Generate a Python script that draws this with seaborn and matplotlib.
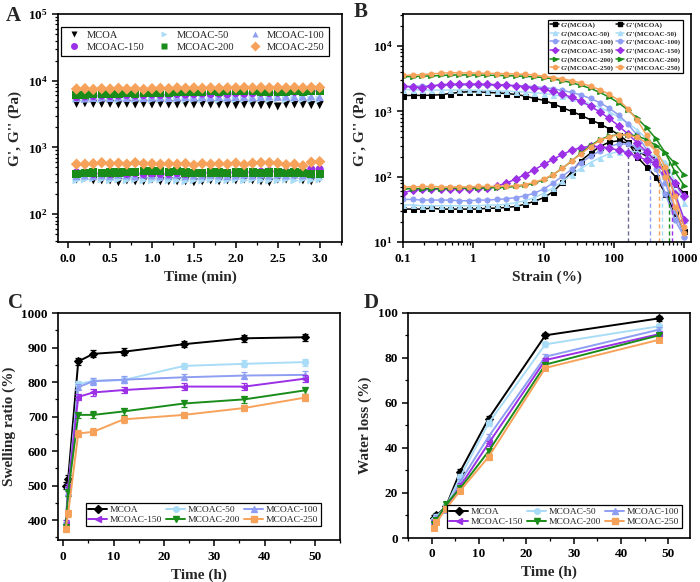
import numpy as np
import pandas as pd
import matplotlib
matplotlib.use("Agg")
import matplotlib.pyplot as plt
import seaborn as sns
from matplotlib.ticker import AutoMinorLocator, LogLocator, FixedLocator, NullFormatter, FixedFormatter

# ---------------- data ----------------
names = ["MCOA", "MCOAC-50", "MCOAC-100", "MCOAC-150", "MCOAC-200", "MCOAC-250"]
colors = ["#000000", "#a9dcf7", "#8e9ef2", "#9b30e6", "#1a8c1a", "#f7a25a"]

# Panel A: time sweep
time_min = [0.1, 0.2, 0.3, 0.4, 0.5, 0.6, 0.7, 0.8, 0.9, 1.0, 1.1, 1.2, 1.3, 1.4, 1.5,
            1.6, 1.7, 1.8, 1.9, 2.0, 2.1, 2.2, 2.3, 2.4, 2.5, 2.6, 2.7, 2.8, 2.9, 3.0]
A_Gp_MCOA = [4500, 4600, 4500, 4500, 4500, 4400, 4500, 4400, 4500, 4400, 4500, 4400, 4400, 4500, 4400,
             4500, 4400, 4400, 4400, 4300, 4400, 4400, 4300, 4300, 4100, 4400, 4400, 4400, 4300, 4300]
A_Gp_50 = [5300, 5200, 5300, 5250, 5300, 5200, 5350, 5250, 5300, 5200, 5300, 5250, 5300, 5200, 5300,
           5250, 5300, 5200, 5300, 5250, 5300, 5200, 5350, 5250, 5300, 5200, 5300, 5250, 5300, 5200]
A_Gp_100 = [5500, 5400, 5500, 5600, 5500, 5600, 5500, 5600, 5500, 5600, 5600, 5500, 5600, 5700, 5600,
            5700, 5600, 5700, 5600, 5700, 5700, 5600, 5700, 5800, 5700, 5800, 5700, 5800, 5800, 5700]
A_Gp_150 = [5700, 5800, 5900, 6000, 5900, 6000, 6100, 6000, 6100, 6200, 6100, 6200, 6300, 6200, 6300,
            6400, 6300, 6400, 6300, 6500, 6400, 6500, 6600, 6500, 6600, 6700, 6800, 6900, 7000, 7100]
A_Gp_200 = [6100, 6200, 6400, 6300, 6400, 6300, 6500, 6400, 6500, 6600, 6500, 6600, 6800, 6700, 6800,
            6700, 6900, 6800, 6900, 7000, 6900, 7000, 6800, 6700, 6800, 6800, 6900, 6800, 6900, 6900]
A_Gp_250 = [7500, 7600, 7400, 7600, 7500, 7700, 7500, 7600, 7400, 7600, 7700, 7600, 7800, 7700, 7800,
            7700, 7800, 7700, 7800, 7800, 7900, 7800, 7900, 7800, 7900, 7800, 7900, 7800, 7900, 7900]
A_Gpp_MCOA = [330, 350, 320, 320, 320, 300, 320, 310, 310, 330, 310, 310, 310, 310, 300,
              310, 320, 310, 320, 320, 330, 320, 310, 300, 330, 330, 360, 320, 310, 340]
A_Gpp_50 = [320, 330, 340, 330, 320, 330, 320, 330, 320, 320, 330, 320, 320, 310, 320,
            320, 330, 320, 320, 330, 320, 330, 320, 320, 320, 330, 320, 330, 320, 330]
A_Gpp_100 = [370, 380, 370, 380, 370, 390, 380, 370, 390, 380, 370, 380, 390, 370, 380,
             380, 390, 380, 370, 380, 390, 380, 390, 380, 390, 380, 390, 380, 390, 400]
A_Gpp_150 = [420, 420, 400, 410, 400, 410, 400, 410, 400, 410, 400, 400, 410, 400, 410,
             410, 420, 410, 420, 420, 430, 420, 430, 440, 430, 430, 440, 440, 470, 470]
A_Gpp_200 = [400, 410, 420, 410, 420, 420, 430, 430, 440, 440, 440, 430, 440, 420, 410,
             410, 420, 420, 410, 420, 420, 420, 410, 420, 420, 410, 420, 410, 400, 400]
A_Gpp_250 = [560, 560, 570, 590, 570, 580, 560, 590, 570, 570, 560, 570, 560, 570, 540,
             570, 560, 570, 560, 580, 550, 580, 590, 590, 580, 550, 560, 530, 600, 610]

# Panel B: strain sweep
strain = [0.1, 0.136, 0.185, 0.251, 0.341, 0.464, 0.631, 0.858, 1.17, 1.58, 2.15, 2.93, 3.98, 5.41, 7.36,
          10.0, 13.6, 18.5, 25.1, 34.1, 46.4, 63.1, 85.8, 117, 158, 215, 293, 398, 541, 736, 1000]
B_Gp_MCOA = [1750, 1760, 1760, 1770, 1800, 1880, 1960, 2000, 1990, 1960, 1920, 1880, 1820, 1720, 1580,
             1480, 1310, 1140, 1000, 870, 745, 645, 540, 440, 340, 200, 140, 98, 55, 28, 15]
B_Gpp_MCOA = [32, 32, 32, 33, 32, 32, 32, 32, 32, 33, 33, 34, 35, 38, 42,
              48, 59, 82, 120, 177, 230, 290, 340, 355, 325, 250, 205, 195, 123, 77, 56]
B_Gp_50 = [2150, 2150, 2130, 2120, 2120, 2120, 2130, 2120, 2100, 2080, 2060, 2040, 2010, 1980, 1940,
           1880, 1800, 1700, 1580, 1440, 1300, 1150, 990, 820, 660, 520, 380, 250, 150, 60, 22]
B_Gpp_50 = [37, 37, 36, 36, 36, 36, 36, 36, 36, 37, 37, 38, 40, 43, 48,
            56, 68, 85, 108, 135, 165, 195, 225, 242, 248, 240, 225, 205, 170, 85, 40]
B_Gp_100 = [2400, 2420, 2450, 2480, 2500, 2520, 2530, 2530, 2530, 2520, 2510, 2500, 2480, 2440, 2390,
            2320, 2220, 2100, 1950, 1780, 1580, 1360, 1120, 880, 640, 430, 260, 130, 55, 22, 12]
B_Gpp_100 = [45, 45, 44, 44, 44, 44, 43, 43, 44, 44, 45, 46, 48, 51, 56,
             65, 80, 102, 130, 165, 205, 250, 290, 320, 315, 285, 240, 170, 80, 30, 12]
B_Gp_150 = [2420, 2380, 2300, 2450, 2560, 2600, 2620, 2620, 2620, 2600, 2570, 2530, 2470, 2390, 2290,
            2170, 2020, 1840, 1640, 1420, 1200, 980, 780, 600, 450, 330, 240, 170, 115, 55, 22]
B_Gpp_150 = [57, 62, 64, 64, 65, 65, 66, 66, 67, 68, 72, 80, 92, 108, 128,
             155, 185, 220, 255, 280, 292, 290, 275, 255, 230, 205, 180, 155, 120, 80, 50]
B_Gp_200 = [3400, 3420, 3450, 3500, 3550, 3600, 3620, 3620, 3600, 3580, 3560, 3540, 3500, 3450, 3380,
            3300, 3150, 2950, 2750, 2500, 2250, 1950, 1650, 1350, 1050, 780, 560, 380, 230, 120, 73]
B_Gpp_200 = [65, 66, 66, 66, 66, 67, 67, 67, 67, 68, 68, 69, 71, 74, 80,
             90, 108, 135, 175, 230, 300, 370, 420, 440, 440, 420, 370, 300, 230, 160, 105]
B_Gp_250 = [3560, 3600, 3650, 3750, 3850, 3900, 3900, 3880, 3850, 3820, 3800, 3780, 3750, 3700, 3620,
            3450, 3300, 3150, 2950, 2720, 2430, 2150, 1830, 1480, 1100, 730, 430, 237, 100, 35, 14]
B_Gpp_250 = [70, 70, 71, 71, 70, 70, 70, 70, 71, 71, 71, 72, 73, 76, 82,
             92, 108, 135, 175, 225, 290, 360, 410, 440, 435, 400, 330, 250, 140, 50, 17]
cross_strain = [157, 484, 330, 660, 603, 436]

# Panel C: swelling
swell_time = [0.5, 1, 3, 6, 12, 24, 36, 48]
C_MCOA = [500, 520, 860, 882, 888, 910, 927, 930]
C_50 = [390, 490, 795, 803, 806, 847, 853, 858]
C_100 = [385, 480, 785, 803, 807, 814, 819, 821]
C_150 = [390, 495, 757, 770, 777, 787, 787, 810]
C_200 = [380, 480, 705, 705, 715, 738, 750, 776]
C_250 = [375, 420, 651, 656, 692, 705, 725, 755]
C_err = [9, 10, 9, 10, 10, 9, 10, 10]

# Panel D: water loss
loss_time = [0.5, 1, 3, 6, 12, 24, 48]
D_MCOA = [9, 10, 14, 29.5, 53, 90, 97.5]
D_50 = [8, 9.5, 14, 27, 51, 86, 94]
D_100 = [7.5, 9, 12.5, 25, 45, 80.5, 92.5]
D_150 = [7, 8.5, 13, 23, 42, 79, 90.5]
D_200 = [6, 8, 15, 22, 38.5, 77, 90]
D_250 = [4.5, 7, 13, 21, 36, 75.5, 88]
D_err = [1.0, 1.0, 1.0, 1.2, 1.2, 1.0, 1.0]

A_Gp = [A_Gp_MCOA, A_Gp_50, A_Gp_100, A_Gp_150, A_Gp_200, A_Gp_250]
A_Gpp = [A_Gpp_MCOA, A_Gpp_50, A_Gpp_100, A_Gpp_150, A_Gpp_200, A_Gpp_250]
B_Gp = [B_Gp_MCOA, B_Gp_50, B_Gp_100, B_Gp_150, B_Gp_200, B_Gp_250]
B_Gpp = [B_Gpp_MCOA, B_Gpp_50, B_Gpp_100, B_Gpp_150, B_Gpp_200, B_Gpp_250]
C_vals = [C_MCOA, C_50, C_100, C_150, C_200, C_250]
D_vals = [D_MCOA, D_50, D_100, D_150, D_200, D_250]

# ---------------- style ----------------
sns.set_theme(style="ticks")
plt.rcParams["font.family"] = ["Liberation Serif", "DejaVu Serif"]
plt.rcParams["font.weight"] = "bold"
plt.rcParams["axes.labelweight"] = "bold"
plt.rcParams["mathtext.fontset"] = "custom"
plt.rcParams["mathtext.rm"] = "Liberation Serif:bold"
plt.rcParams["mathtext.bf"] = "Liberation Serif:bold"
plt.rcParams["mathtext.it"] = "Liberation Serif:bold"
plt.rcParams["axes.linewidth"] = 1.2
plt.rcParams["xtick.major.width"] = 1.1
plt.rcParams["ytick.major.width"] = 1.1
plt.rcParams["xtick.minor.width"] = 0.9
plt.rcParams["ytick.minor.width"] = 0.9
plt.rcParams["xtick.major.size"] = 4
plt.rcParams["ytick.major.size"] = 4
plt.rcParams["xtick.minor.size"] = 2.2
plt.rcParams["ytick.minor.size"] = 2.2
plt.rcParams["xtick.direction"] = "out"
plt.rcParams["ytick.direction"] = "out"

fig = plt.figure(figsize=(7.0, 5.82), dpi=100)
axA = fig.add_axes([0.083, 0.584, 0.406, 0.392])
axB = fig.add_axes([0.576, 0.584, 0.411, 0.392])
axC = fig.add_axes([0.083, 0.072, 0.403, 0.390])
axD = fig.add_axes([0.583, 0.0756, 0.403, 0.387])

tick_fs = 9.5
lab_fs = 11

def style_ax(ax):
    for s in ax.spines.values():
        s.set_color("black")
        s.set_linewidth(1.2)
    ax.tick_params(axis="both", which="both", colors="black", labelsize=tick_fs,
                   top=False, right=False)
    for lab in ax.get_xticklabels() + ax.get_yticklabels():
        lab.set_fontweight("bold")

def log_ylabels(ax, exps):
    ax.yaxis.set_major_locator(FixedLocator([10.0 ** e for e in exps]))
    ax.yaxis.set_major_formatter(FixedFormatter([r"$\mathbf{10^{%d}}$" % e for e in exps]))
    ax.yaxis.set_minor_locator(LogLocator(base=10, subs=np.arange(2, 10)))
    ax.yaxis.set_minor_formatter(NullFormatter())

leg_order = [0, 3, 1, 4, 2, 5]

# ---------------- Panel A ----------------
markersA = ["v", ">", "^", "o", "s", "D"]
for k in range(6):
    sns.scatterplot(x=time_min, y=A_Gp[k], ax=axA, marker=markersA[k], color=colors[k],
                    s=34, edgecolor="none", legend=False)
    sns.scatterplot(x=time_min, y=A_Gpp[k], ax=axA, marker=markersA[k], color=colors[k],
                    s=34, edgecolor="none", legend=False)
axA.set_yscale("log")
axA.set_xlim(-0.12, 3.27)
axA.set_ylim(38, 1e5)
log_ylabels(axA, [2, 3, 4, 5])
axA.set_xticks([0.0, 0.5, 1.0, 1.5, 2.0, 2.5, 3.0])
axA.set_xticklabels(["0.0", "0.5", "1.0", "1.5", "2.0", "2.5", "3.0"])
axA.xaxis.set_minor_locator(AutoMinorLocator(2))
axA.set_xlabel("Time (min)", fontsize=lab_fs, fontweight="bold")
axA.set_ylabel("G', G'' (Pa)", fontsize=lab_fs, fontweight="bold")
style_ax(axA)
hA = [plt.Line2D([], [], ls="none", marker=markersA[k], color=colors[k], markersize=5,
                 markeredgecolor="none") for k in range(6)]
legA = axA.legend([hA[i] for i in leg_order], [names[i] for i in leg_order], ncol=3,
                  loc="upper center", bbox_to_anchor=(0.482, 0.968),
                  frameon=True, fancybox=False, edgecolor="black", framealpha=1,
                  handletextpad=0.4, columnspacing=1.1, borderpad=0.4, labelspacing=0.2,
                  handlelength=1.6, prop={"family": "Liberation Serif", "weight": "normal", "size": 7.6})
legA.get_frame().set_linewidth(0.9)

# ---------------- Panel B ----------------
markersB = ["s", "^", "o", "D", ">", "o"]
for k in range(6):
    sns.lineplot(x=strain, y=B_Gp[k], ax=axB, color=colors[k], marker=markersB[k],
                 markersize=3.6, markeredgecolor=colors[k], linewidth=1.1, legend=False)
    sns.lineplot(x=strain, y=B_Gpp[k], ax=axB, color=colors[k], marker=markersB[k],
                 markersize=3.6, markeredgecolor=colors[k], linewidth=1.1, legend=False)
    ytop = 10 ** np.interp(np.log10(cross_strain[k]), np.log10(strain), np.log10(B_Gp[k]))
    dash_col = "#6b6b8f" if k == 0 else colors[k]
    axB.vlines(cross_strain[k], 10, ytop, colors=dash_col, linestyles=(0, (3, 2)), linewidth=1.0)
axB.set_xscale("log")
axB.set_yscale("log")
axB.set_xlim(0.1, 1245)
axB.set_ylim(10, 31000)
log_ylabels(axB, [1, 2, 3, 4])
axB.xaxis.set_major_locator(FixedLocator([0.1, 1, 10, 100, 1000]))
axB.xaxis.set_major_formatter(FixedFormatter(["0.1", "1", "10", "100", "1000"]))
axB.xaxis.set_minor_locator(LogLocator(base=10, subs=np.arange(2, 10)))
axB.xaxis.set_minor_formatter(NullFormatter())
axB.set_xlabel("Strain (%)", fontsize=lab_fs, fontweight="bold")
axB.set_ylabel("G', G'' (Pa)", fontsize=lab_fs, fontweight="bold")
style_ax(axB)
hB, lB = [], []
for k in range(6):
    hB.append(plt.Line2D([], [], color=colors[k], marker=markersB[k], markersize=3.0, lw=1.1))
    lB.append("G'(%s)" % names[k])
for k in range(6):
    hB.append(plt.Line2D([], [], color=colors[k], marker=markersB[k], markersize=3.0, lw=1.1))
    lB.append("G''(%s)" % names[k])
legB = axB.legend(hB, lB, ncol=2, loc="upper right", bbox_to_anchor=(0.984, 0.991),
                  frameon=True, fancybox=False, edgecolor="black", framealpha=1,
                  handletextpad=0.2, columnspacing=0.3, borderpad=0.3, labelspacing=0.33,
                  handlelength=1.2, prop={"family": "Liberation Serif", "weight": "bold", "size": 5.1})
legB.get_frame().set_linewidth(0.9)

# ---------------- Panel C ----------------
markersC = ["D", "o", "^", "<", "v", "s"]
for k in range(6):
    axC.errorbar(swell_time, C_vals[k], yerr=C_err, fmt="none", ecolor=colors[k],
                 elinewidth=0.9, capsize=2, capthick=0.9)
    sns.lineplot(x=swell_time, y=C_vals[k], ax=axC, color=colors[k], marker=markersC[k],
                 markersize=4.5, markeredgecolor=colors[k], linewidth=1.4, legend=False)
axC.set_xlim(-1, 55)
axC.set_ylim(342, 1000)
axC.set_xticks([0, 10, 20, 30, 40, 50])
axC.set_yticks([400, 500, 600, 700, 800, 900, 1000])
axC.xaxis.set_minor_locator(AutoMinorLocator(2))
axC.yaxis.set_minor_locator(AutoMinorLocator(2))
axC.set_xlabel("Time (h)", fontsize=lab_fs, fontweight="bold")
axC.set_ylabel("Swelling ratio (%)", fontsize=lab_fs, fontweight="bold")
style_ax(axC)
hC = [plt.Line2D([], [], color=colors[k], marker=markersC[k], markersize=4.0, lw=1.4) for k in range(6)]
legkw = dict(ncol=3, loc="lower right", frameon=True, fancybox=False,
             edgecolor="black", framealpha=1, handletextpad=0.3, columnspacing=0.4,
             borderpad=0.25, labelspacing=0.1, handlelength=2.0,
             prop={"family": "Liberation Serif", "weight": "normal", "size": 6.8})
legC = axC.legend([hC[i] for i in leg_order], [names[i] for i in leg_order],
                  bbox_to_anchor=(0.947, 0.04), **legkw)
legC.get_frame().set_linewidth(0.9)

# ---------------- Panel D ----------------
for k in range(6):
    axD.errorbar(loss_time, D_vals[k], yerr=D_err, fmt="none", ecolor=colors[k],
                 elinewidth=0.9, capsize=2, capthick=0.9)
    sns.lineplot(x=loss_time, y=D_vals[k], ax=axD, color=colors[k], marker=markersC[k],
                 markersize=4.5, markeredgecolor=colors[k], linewidth=1.4, legend=False)
axD.set_xlim(-5, 54.6)
axD.set_ylim(0, 100)
axD.set_xticks([0, 10, 20, 30, 40, 50])
axD.set_yticks([0, 20, 40, 60, 80, 100])
axD.xaxis.set_minor_locator(AutoMinorLocator(2))
axD.yaxis.set_minor_locator(AutoMinorLocator(2))
axD.set_xlabel("Time (h)", fontsize=lab_fs, fontweight="bold")
axD.set_ylabel("Water loss (%)", fontsize=lab_fs, fontweight="bold")
style_ax(axD)
legD = axD.legend([hC[i] for i in leg_order], [names[i] for i in leg_order],
                  bbox_to_anchor=(0.986, 0.022), **legkw)
legD.get_frame().set_linewidth(0.9)

# panel letters
for txt, x, y in [("A", 0.008, 0.955), ("B", 0.505, 0.962), ("C", 0.012, 0.462), ("D", 0.52, 0.462)]:
    fig.text(x, y, txt, fontsize=15, fontweight="bold", ha="left", va="bottom",
             family="Liberation Serif")

fig.savefig("out.png", dpi=100)
